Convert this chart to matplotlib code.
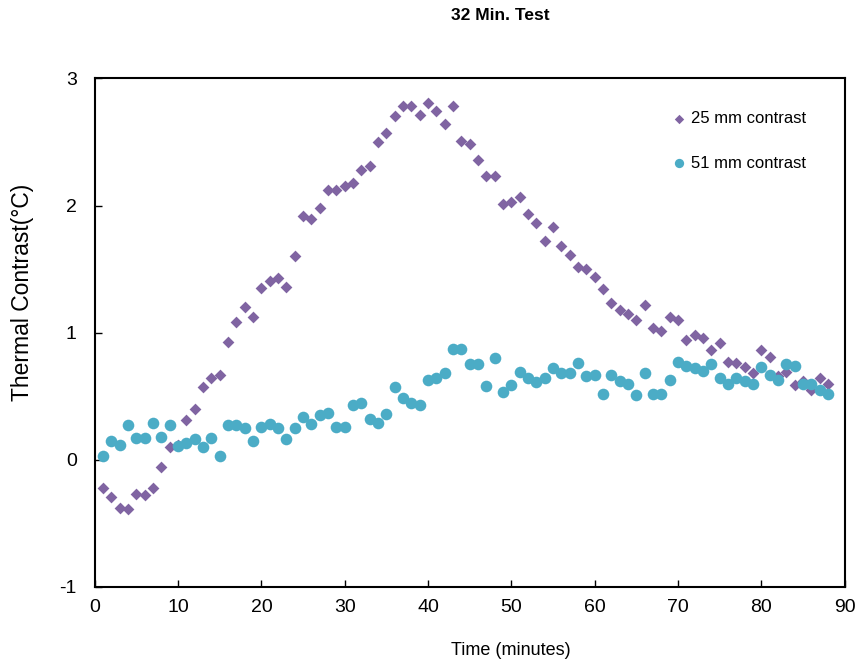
import matplotlib.pyplot as plt
import numpy as np

plt.rcParams['font.family'] = ['Liberation Sans', 'DejaVu Sans']
plt.rcParams['axes.unicode_minus'] = False

# Time in minutes, one reading per minute
minutes = np.arange(1, 89)

contrast_25mm = [-0.22, -0.29, -0.38, -0.39, -0.27, -0.28, -0.22, -0.06, 0.10, 0.12,
                 0.31, 0.40, 0.57, 0.64, 0.67, 0.93, 1.08, 1.20, 1.12, 1.35,
                 1.41, 1.43, 1.36, 1.60, 1.92, 1.89, 1.98, 2.12, 2.12, 2.15,
                 2.18, 2.28, 2.31, 2.50, 2.57, 2.70, 2.78, 2.78, 2.71, 2.81,
                 2.74, 2.64, 2.78, 2.51, 2.48, 2.36, 2.23, 2.23, 2.01, 2.03,
                 2.07, 1.93, 1.86, 1.72, 1.83, 1.68, 1.61, 1.52, 1.50, 1.44,
                 1.34, 1.23, 1.18, 1.15, 1.10, 1.22, 1.04, 1.01, 1.12, 1.10,
                 0.94, 0.98, 0.96, 0.86, 0.92, 0.77, 0.76, 0.73, 0.68, 0.86,
                 0.81, 0.66, 0.69, 0.59, 0.62, 0.55, 0.64, 0.60]

contrast_51mm = [0.03, 0.15, 0.12, 0.27, 0.17, 0.17, 0.29, 0.18, 0.27, 0.11,
                 0.13, 0.16, 0.10, 0.17, 0.03, 0.27, 0.27, 0.25, 0.15, 0.26,
                 0.28, 0.25, 0.16, 0.25, 0.34, 0.28, 0.35, 0.37, 0.26, 0.26,
                 0.43, 0.45, 0.32, 0.29, 0.36, 0.57, 0.49, 0.45, 0.43, 0.63,
                 0.64, 0.68, 0.87, 0.87, 0.75, 0.75, 0.58, 0.80, 0.53, 0.59,
                 0.69, 0.64, 0.61, 0.64, 0.72, 0.68, 0.68, 0.76, 0.66, 0.67,
                 0.52, 0.67, 0.62, 0.60, 0.51, 0.68, 0.52, 0.52, 0.63, 0.77,
                 0.74, 0.72, 0.70, 0.75, 0.64, 0.60, 0.64, 0.62, 0.60, 0.73,
                 0.67, 0.63, 0.75, 0.74, 0.60, 0.60, 0.55, 0.52]

purple = '#8064A2'
teal = '#4BACC6'

fig = plt.figure(figsize=(8.62, 6.64), dpi=100)
ax = fig.add_axes([0.110, 0.116, 0.870, 0.766])

ax.scatter(minutes, contrast_25mm, marker='D', s=36, color=purple,
           linewidths=0, label='25 mm contrast', zorder=3)
ax.scatter(minutes, contrast_51mm, marker='o', s=70, color=teal,
           linewidths=0, label='51 mm contrast', zorder=4)

ax.set_xlim(0, 90)
ax.set_ylim(-1, 3)
ax.set_xticks(np.arange(0, 91, 10))
ax.set_yticks([-1, 0, 1, 2, 3])

# Excel-like frame and inward ticks
for side in ['top', 'right', 'bottom', 'left']:
    ax.spines[side].set_linewidth(1.5)
    ax.spines[side].set_color('black')
ax.tick_params(direction='in', length=5, width=1, labelsize=14)
ax.tick_params(axis='x', pad=9)
ax.tick_params(axis='y', pad=13)

ax.set_ylabel('Thermal Contrast(°C)', fontsize=16.5)
ax.yaxis.set_label_coords(-0.081, 0.58)
fig.text(0.593, 0.021, 'Time (minutes)', fontsize=13, ha='center', va='center')
fig.text(0.580, 0.977, '32 Min. Test', fontsize=12.5, fontweight='bold',
         ha='center', va='center')

leg = ax.legend(loc='upper left', bbox_to_anchor=(0.748, 0.948), frameon=False,
                fontsize=12, handletextpad=-0.3, labelspacing=1.75,
                borderaxespad=0, markerscale=0.8)

fig.savefig('out.png', dpi=100)
